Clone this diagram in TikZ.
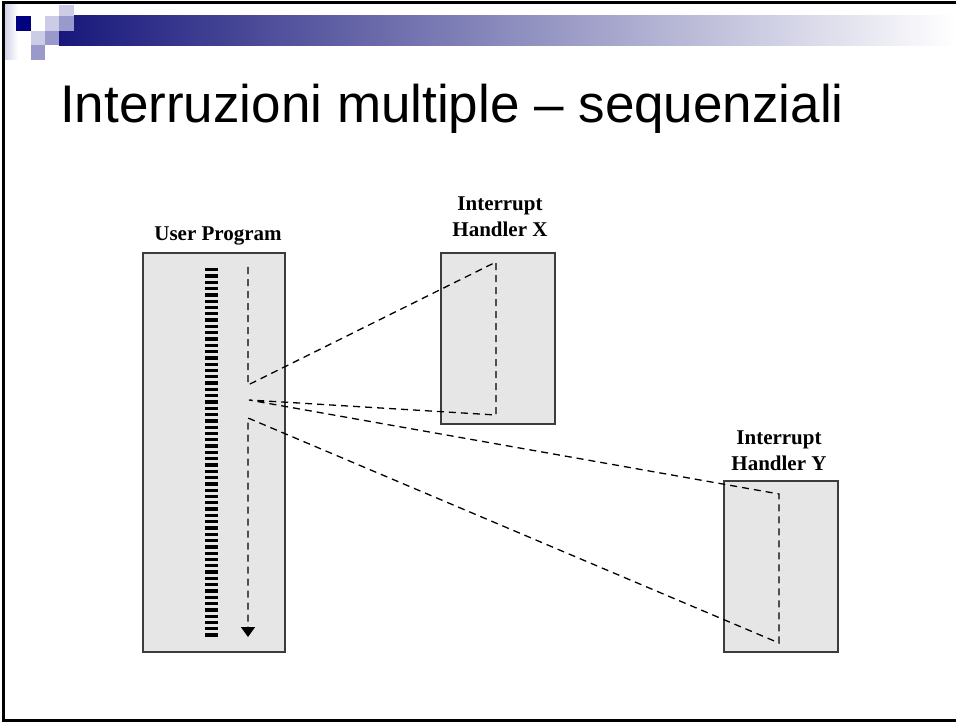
\documentclass[tikz,border=0pt]{standalone}
\usepackage{fontspec}
\setmainfont{Liberation Serif}
\newfontfamily\titlefont{Liberation Sans}
\usetikzlibrary{arrows.meta, positioning}
\definecolor{barnavy}{RGB}{24, 24, 124}
\definecolor{barmid}{RGB}{150, 150, 180}
\definecolor{boxgray}{RGB}{230, 230, 230}
\definecolor{edgegray}{RGB}{60, 60, 60}
\definecolor{sqnavy}{RGB}{0, 0, 128}
\definecolor{sqlight}{RGB}{204, 204, 230}
\definecolor{sqmid}{RGB}{153, 153, 204}

\begin{document}
\begin{tikzpicture}[
    x=1pt, y=-1pt,
    >={Triangle[width=14pt, length=10pt]},
    progbox/.style={rectangle, draw=edgegray, line width=1.5pt, fill=boxgray, inner sep=0pt},
    lbl/.style={font=\bfseries\fontsize{21}{26}\selectfont, align=center, inner sep=0pt},
    flow/.style={line width=1.3pt, dash pattern=on 7pt off 5pt},
    codecol/.style={line width=13pt, dash pattern=on 3.3pt off 3pt}
]
\useasboundingbox (0,0) rectangle (956,722);

% Slide header decoration
\shade[left color=sqlight, right color=white] (3,3) rectangle (18,60);
\shade[left color=barnavy, middle color=barmid, right color=white] (59,16) rectangle (956,46);
\fill[sqnavy] (16,16) rectangle (31,31);
\fill[sqlight] (45,16) rectangle (59,31);
\fill[sqmid] (59,16) rectangle (74,31);
\fill[sqlight] (59,5) rectangle (74,16);
\fill[sqmid] (45,31) rectangle (59,45);
\fill[sqlight] (31,31) rectangle (45,45);
\fill[sqmid] (31,45) rectangle (45,60);

% Slide frame
\draw[line width=3pt] (956,3) -- (3,3) -- (3,720) -- (956,720);

% Title
\node[font=\titlefont\fontsize{53}{60}\selectfont, anchor=base west, inner sep=0pt] (title) at (60,123) {Interruzioni multiple – sequenziali};

% Boxes
\node[progbox, minimum width=142pt, minimum height=399pt] (user) at (214,452.5) {};
\node[progbox, minimum width=114pt, minimum height=171pt] (hx) at (498,338.5) {};
\node[progbox, minimum width=114pt, minimum height=171pt] (hy) at (781,566.5) {};

% Labels
\node[lbl, anchor=base] (userlbl) at (218,241) {User Program};
\node[lbl, anchor=south] (xlbl) at (500,237) {Interrupt\\Handler X};
\node[lbl, anchor=south] (ylbl) at (779,471) {Interrupt\\Handler Y};

% Program code
\coordinate (codeTop) at (211.5,268);
\coordinate (codeBot) at (211.5,638);
\draw[codecol] (codeTop) -- (codeBot);

% Control flow
\coordinate (runA) at (248,267);
\coordinate (irqX) at (248,385);
\coordinate (xTop) at (496,262);
\coordinate (xEnd) at (496,415);
\coordinate (irqY) at (249,400);
\coordinate (yTop) at (779,494);
\coordinate (yEnd) at (779,643);
\coordinate (back) at (248,418);
\coordinate (runB) at (248,637);
\draw[flow, ->] (runA) -- (irqX) -- (xTop) -- (xEnd) -- (irqY) -- (yTop) -- (yEnd) -- (back) -- (runB);

\end{tikzpicture}
\end{document}
